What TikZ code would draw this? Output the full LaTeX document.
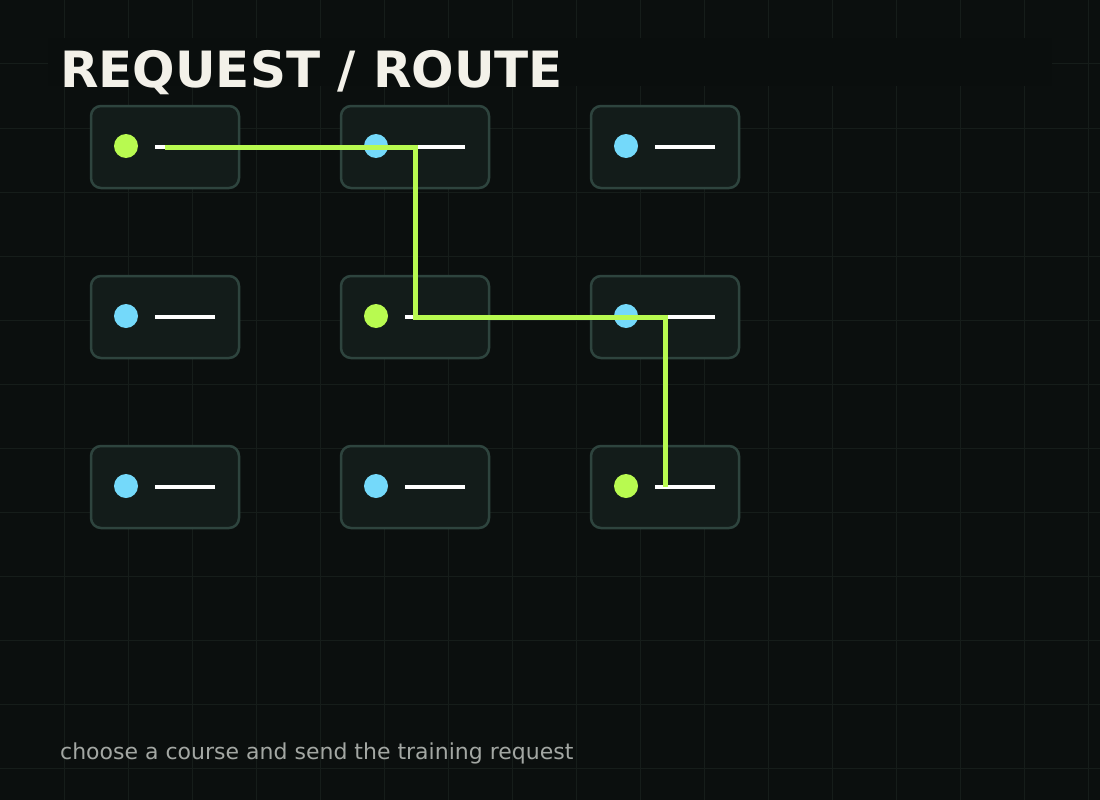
\documentclass[tikz,border=0pt]{standalone}
\usepackage{fontspec}
\usetikzlibrary{calc}
\setmainfont{DejaVu Sans}
\definecolor{bg}{HTML}{0B0F0E}
\definecolor{gridc}{HTML}{161D1A}
\definecolor{band}{HTML}{0A0E0D}
\definecolor{cardf}{HTML}{131C1A}
\definecolor{cardb}{HTML}{2E443E}
\definecolor{lime}{HTML}{B8FA50}
\definecolor{sky}{HTML}{74D9FA}
\definecolor{ttl}{HTML}{F3F1E9}
\definecolor{sub}{HTML}{A3A7A3}
\begin{document}
\begin{tikzpicture}[x=1pt,y=-1pt,
  card/.style={draw=cardb,fill=cardf,line width=2.5pt,rounded corners=10pt,minimum width=148pt,minimum height=82pt,inner sep=0pt},
  route/.style={draw=lime,line width=5pt}]
\useasboundingbox (0,0) rectangle (1100,800);
\fill[bg] (0,0) rectangle (1100,800);
\foreach \i in {1,...,17} \draw[gridc,line width=1pt] (\i*64,0) -- (\i*64,800);
\foreach \j in {1,...,12} \draw[gridc,line width=1pt] (0,\j*64) -- (1100,\j*64);
\fill[band] (48,38) rectangle (1052,86);
\node[anchor=base west,text=ttl,font=\bfseries\fontsize{50}{54}\selectfont,inner sep=0pt] (title) at (60,87) {REQUEST / ROUTE};
\node[anchor=base west,text=sub,font=\fontsize{22}{26}\selectfont,inner sep=0pt] (subt) at (60,759) {choose a course and send the training request};
\foreach \c/\r/\col [count=\n] in {0/0/lime,1/0/sky,2/0/sky,0/1/sky,1/1/lime,2/1/sky,0/2/sky,1/2/sky,2/2/lime}{
  \node[card] (c\n) at (165+\c*250,147+\r*170) {};
  \fill[\col] ($(c\n.center)+(-39,-1)$) circle (12);
  \draw[white,line width=3.5pt] ($(c\n.center)+(-10,0)$) -- ($(c\n.center)+(50,0)$);
}
\draw[route] (c1.center) -| (c5.center) -- (c6.center) -- (c9.center);
\end{tikzpicture}
\end{document}
